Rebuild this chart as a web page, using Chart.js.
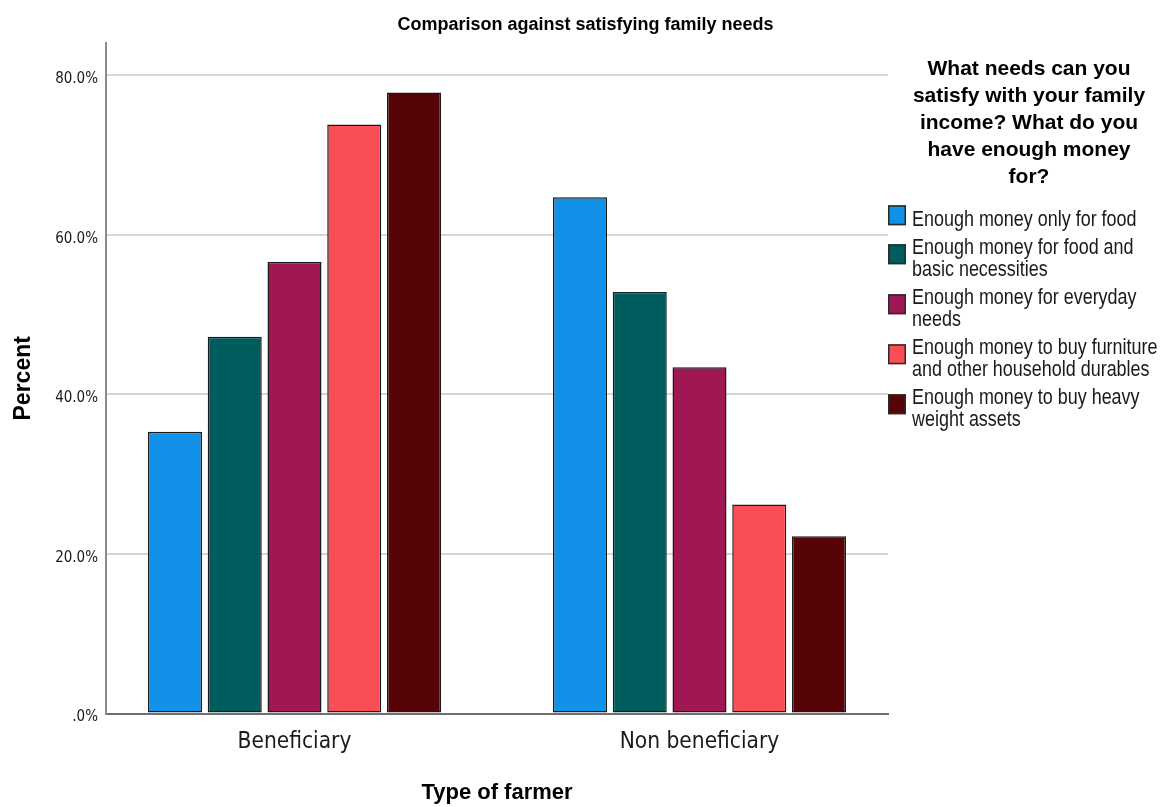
<!DOCTYPE html>
<html>
<head>
<meta charset="utf-8">
<title>Comparison against satisfying family needs</title>
<script src="https://cdn.jsdelivr.net/npm/chart.js@4.4.1/dist/chart.umd.min.js"></script>
<style>
  html, body { margin: 0; padding: 0; background: #ffffff; }
  #wrap { width: 1163px; height: 807px; }
</style>
</head>
<body>
<div id="wrap"><canvas id="chart" width="1163" height="807"></canvas></div>
<script>
// Groups on the x axis
const categories = ['Beneficiary', 'Non beneficiary'];

// Answer levels, split into the lines shown in the legend
const needLevels = [
  ['Enough money only for food'],
  ['Enough money for food and', 'basic necessities'],
  ['Enough money for everyday', 'needs'],
  ['Enough money to buy furniture', 'and other household durables'],
  ['Enough money to buy heavy', 'weight assets']
];

// Percent of each answer level falling in each farmer group
const onlyFood      = [35.3, 64.7];
const basicNeeds    = [47.2, 52.8];
const everydayNeeds = [56.6, 43.4];
const furniture     = [73.8, 26.2];
const heavyAssets   = [77.8, 22.2];

// Value axis ticks
const percentTicks = [0, 20, 40, 60, 80];

const seriesValues = [onlyFood, basicNeeds, everydayNeeds, furniture, heavyAssets];
const seriesColors = ['#1192e8', '#005d5d', '#9f1853', '#fa4d56', '#570408'];

const CONDENSED = "'DejaVu Sans Condensed', 'Liberation Sans', sans-serif";
const SANS = "'Liberation Sans', Arial, sans-serif";

// Legend drawn at the right of the plot, with wrapped labels and a heading
const sideLegend = {
  id: 'sideLegend',
  afterDraw(chart) {
    const ctx = chart.ctx;
    const left = chart.chartArea.right;
    ctx.save();

    // heading
    const heading = ['What needs can you', 'satisfy with your family', 'income? What do you', 'have enough money', 'for?'];
    ctx.fillStyle = '#000000';
    ctx.font = 'bold 21px ' + SANS;
    ctx.textAlign = 'center';
    ctx.textBaseline = 'alphabetic';
    heading.forEach((line, i) => ctx.fillText(line, left + 141, 75 + i * 27));

    // items
    let top = 210;
    const squeeze = 0.835;
    chart.data.datasets.forEach((ds, i) => {
      const lines = needLevels[i];
      const blockH = (lines.length - 1) * 22 + 15.5;
      const boxH = 20, boxW = 18;
      const boxY = top + blockH / 2 - boxH / 2 - 2.5;
      ctx.fillStyle = ds.backgroundColor;
      ctx.fillRect(left, boxY, boxW, boxH);
      ctx.strokeStyle = '#2a2a2a';
      ctx.lineWidth = 1.5;
      ctx.strokeRect(left + 0.75, boxY + 0.75, boxW - 1.5, boxH - 1.5);

      ctx.save();
      ctx.translate(left + 24, 0);
      ctx.scale(squeeze, 1);
      ctx.textAlign = 'left';
      ctx.font = '21.5px ' + SANS;
      ctx.fillStyle = '#1a1a1a';
      lines.forEach((line, j) => ctx.fillText(line, 0, top + 15.5 + j * 22));
      ctx.restore();

      top += lines.length * 22 + 6;
    });
    ctx.restore();
  }
};

const datasets = seriesValues.map((vals, i) => ({
  label: needLevels[i].join(' '),
  data: vals.map((v, k) => ({ x: k, y: v })),
  backgroundColor: seriesColors[i],
  borderColor: '#1a1a1a',
  borderWidth: 1.5,
  borderSkipped: false,
  categoryPercentage: 0.7377,
  barPercentage: 0.904
}));

new Chart(document.getElementById('chart'), {
  type: 'bar',
  data: { datasets },
  plugins: [sideLegend],
  options: {
    responsive: false,
    animation: false,
    layout: { padding: { left: 8, right: 0, top: 0, bottom: 0 } },
    plugins: {
      legend: { display: false },
      tooltip: { enabled: false },
      title: {
        display: true,
        text: 'Comparison against satisfying family needs',
        color: '#000000',
        font: { family: SANS, weight: 'bold', size: 18 },
        padding: { top: 14, bottom: 7.5 }
      }
    },
    scales: {
      x: {
        type: 'linear',
        offset: false,
        min: -0.4654,
        max: 1.4654,
        afterBuildTicks: s => { s.ticks = categories.map((_, i) => ({ value: i })); },
        afterFit: s => { s.height = 93.5; },
        ticks: {
          callback: v => categories[v],
          color: '#1a1a1a',
          font: { family: CONDENSED, size: 22.5 },
          padding: 15,
          autoSkip: false,
          maxRotation: 0
        },
        grid: { display: false, drawTicks: false, offset: false },
        border: { display: true, color: '#6f6f6f', width: 2 },
        title: {
          display: true,
          text: 'Type of farmer',
          color: '#000000',
          font: { family: SANS, weight: 'bold', size: 22 },
          padding: { top: 0, bottom: 1 }
        }
      },
      y: {
        min: 0,
        max: 84,
        afterBuildTicks: s => { s.ticks = percentTicks.map(v => ({ value: v })); },
        afterFit: s => { s.width = 98; },
        ticks: {
          callback: v => (v === 0 ? '.0%' : v.toFixed(1) + '%'),
          color: '#1a1a1a',
          font: { family: CONDENSED, size: 15 },
          padding: 8,
          labelOffset: 4
        },
        grid: { color: '#d6d6d6', lineWidth: 2, drawTicks: false },
        border: { display: true, color: '#8a8a8a', width: 2 },
        title: {
          display: true,
          text: 'Percent',
          color: '#000000',
          font: { family: SANS, weight: 'bold', size: 23 },
          padding: { top: 2, bottom: 0 }
        }
      },
      legendSpace: {
        type: 'linear',
        position: 'right',
        display: true,
        afterFit: s => { s.width = 275; },
        ticks: { display: false },
        grid: { display: false, drawTicks: false },
        border: { display: false }
      }
    }
  }
});
</script>
</body>
</html>
